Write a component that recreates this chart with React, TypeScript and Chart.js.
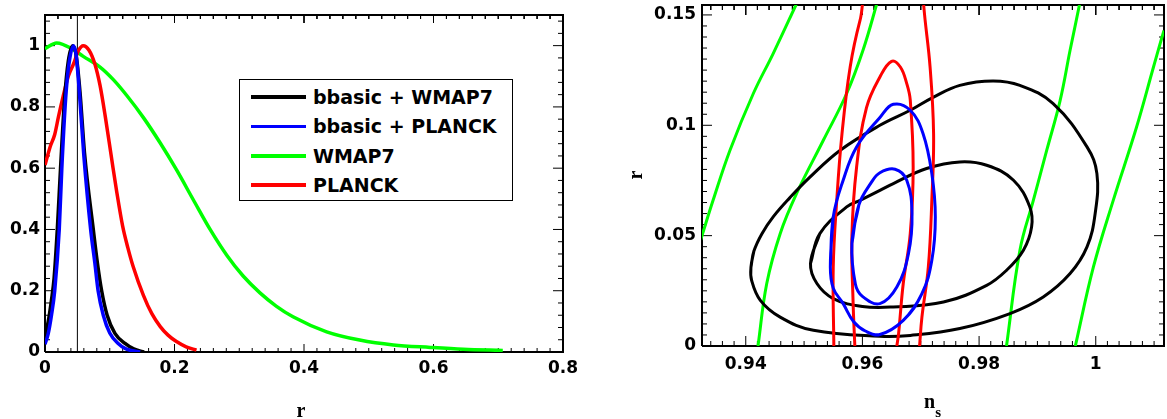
import React, { useEffect, useRef } from "react";
import { Chart, registerables } from "chart.js";

Chart.register(...registerables);
Chart.defaults.font.family = "'DejaVu Sans', sans-serif";
Chart.defaults.font.weight = "bold" as any;
Chart.defaults.font.size = 17;
Chart.defaults.color = "#000";

// ---------- Left panel: 1D likelihoods of r ----------
const blackR = [0, 0.005, 0.01, 0.014, 0.019, 0.024, 0.03, 0.036, 0.043, 0.048, 0.054, 0.061, 0.0746, 0.081, 0.0875, 0.096, 0.108, 0.1236, 0.137, 0.153];
const blackL = [0.05, 0.1, 0.17, 0.24, 0.4, 0.6, 0.82, 0.95, 1.0, 0.97, 0.85, 0.65, 0.4, 0.29, 0.2, 0.12, 0.061, 0.028, 0.01, 0];

const blueR = [0, 0.005, 0.01, 0.015, 0.022, 0.026, 0.032, 0.037, 0.044, 0.048, 0.053, 0.06, 0.0705, 0.077, 0.082, 0.09, 0.1, 0.113, 0.125, 0.147];
const blueL = [0.025, 0.06, 0.12, 0.2, 0.4, 0.6, 0.83, 0.94, 1.0, 0.97, 0.85, 0.64, 0.4, 0.29, 0.2, 0.12, 0.062, 0.028, 0.01, 0];

const greenR = [0, 0.018, 0.044, 0.059, 0.085, 0.1055, 0.126, 0.152, 0.178, 0.203, 0.229, 0.255, 0.281, 0.306, 0.332, 0.357, 0.383, 0.435, 0.486, 0.538, 0.595, 0.646, 0.707];
const greenL = [0.99, 1.009, 0.987, 0.965, 0.93, 0.889, 0.838, 0.765, 0.682, 0.595, 0.497, 0.4, 0.315, 0.248, 0.193, 0.15, 0.115, 0.066, 0.039, 0.023, 0.015, 0.009, 0.005];

const redR = [0, 0.008, 0.015, 0.021, 0.028, 0.036, 0.044, 0.052, 0.059, 0.068, 0.077, 0.085, 0.093, 0.103, 0.111, 0.12, 0.128, 0.136, 0.152, 0.165, 0.178, 0.19, 0.203, 0.218, 0.234];
const redL = [0.61, 0.67, 0.71, 0.77, 0.834, 0.9, 0.94, 0.985, 1.0, 0.985, 0.94, 0.87, 0.77, 0.63, 0.52, 0.41, 0.34, 0.28, 0.185, 0.125, 0.083, 0.055, 0.034, 0.017, 0.006];

const markerR = [0.05, 0.05];
const markerL = [0, 1.1];

const leftXTicks = [0, 0.2, 0.4, 0.6, 0.8];
const leftYTicks = [0, 0.2, 0.4, 0.6, 0.8, 1];

const legendLabels = ["bbasic + WMAP7", "bbasic + PLANCK", "WMAP7", "PLANCK"];
const legendColors = ["#000000", "#0000ff", "#00ff00", "#ff0000"];

// ---------- Right panel: 2D contours in (n_s, r) ----------
const blackOuterNs = [0.9409, 0.9414, 0.9428, 0.9447, 0.9475, 0.951, 0.9562, 0.963, 0.9682, 0.9722, 0.9767, 0.9824, 0.987, 0.9927, 0.9985, 1.0002, 0.9999, 0.9985, 0.9956, 0.991, 0.9853, 0.9767, 0.9682, 0.963, 0.9516, 0.9459, 0.9425, 0.941];
const blackOuterR = [0.0358, 0.043, 0.051, 0.0585, 0.067, 0.0765, 0.0887, 0.1, 0.1068, 0.1128, 0.1181, 0.1201, 0.1181, 0.1098, 0.0902, 0.0781, 0.06, 0.0449, 0.0328, 0.0222, 0.0147, 0.0079, 0.0048, 0.0044, 0.0071, 0.0131, 0.0207, 0.0298];

const blackInnerNs = [0.9511, 0.9527, 0.9573, 0.9596, 0.963, 0.9653, 0.971, 0.9767, 0.9813, 0.9859, 0.9887, 0.989, 0.9876, 0.9847, 0.9813, 0.9739, 0.9653, 0.96, 0.955, 0.9522];
const blackInnerR = [0.0373, 0.0509, 0.063, 0.066, 0.0705, 0.0736, 0.0804, 0.0834, 0.0819, 0.0751, 0.063, 0.0539, 0.0434, 0.0343, 0.0275, 0.0199, 0.0177, 0.0179, 0.0215, 0.0283];

const blueOuterNs = [0.9545, 0.955, 0.9567, 0.959, 0.963, 0.9653, 0.9682, 0.9704, 0.9719, 0.9725, 0.9719, 0.9702, 0.967, 0.963, 0.9605, 0.9585, 0.9567, 0.955];
const blueOuterR = [0.0358, 0.0585, 0.0751, 0.0902, 0.1035, 0.1095, 0.1068, 0.0962, 0.0781, 0.0585, 0.0388, 0.0237, 0.0116, 0.0052, 0.0068, 0.011, 0.0192, 0.0262];

const blueInnerNs = [0.9582, 0.9594, 0.9615, 0.963, 0.9656, 0.9676, 0.9685, 0.9679, 0.9659, 0.963, 0.96, 0.9588];
const blueInnerR = [0.0464, 0.064, 0.074, 0.0785, 0.0801, 0.0751, 0.06, 0.0419, 0.0267, 0.0192, 0.0225, 0.028];

const redInnerNs = [0.9587, 0.9584, 0.9582, 0.959, 0.9607, 0.963, 0.965, 0.9665, 0.9676, 0.9682, 0.9687, 0.9682, 0.967, 0.9662, 0.9659];
const redInnerR = [0, 0.02, 0.05, 0.081, 0.108, 0.1219, 0.129, 0.1264, 0.1189, 0.1115, 0.0811, 0.0509, 0.0283, 0.0056, 0];

const redOuterNs = [0.9551, 0.955, 0.9556, 0.9565, 0.9579, 0.9596, 0.9614, 0.9705, 0.9705, 0.9716, 0.9722, 0.9719, 0.9713, 0.9702, 0.9698];
const redOuterR = [0, 0.0358, 0.066, 0.0962, 0.1264, 0.1476, 0.162, 0.162, 0.1545, 0.1264, 0.0962, 0.066, 0.0358, 0.0131, 0];

const green1Ns = [0.9318, 0.9325, 0.9344, 0.9373, 0.9413, 0.9447, 0.9486, 0.9492];
const green1R = [0.044, 0.05, 0.066, 0.0887, 0.1144, 0.1325, 0.1545, 0.158];
const green2Ns = [0.9421, 0.9436, 0.9459, 0.9487, 0.9533, 0.9573, 0.9601, 0.9624, 0.9627];
const green2R = [0, 0.0283, 0.0509, 0.069, 0.0932, 0.1144, 0.134, 0.1545, 0.158];
const green3Ns = [0.9847, 0.987, 0.9893, 0.9916, 0.9939, 0.9956, 0.9972, 0.9974];
const green3R = [0, 0.0434, 0.066, 0.0887, 0.1113, 0.134, 0.1545, 0.158];
const green4Ns = [0.9965, 0.9996, 1.003, 1.007, 1.0099, 1.0117, 1.0135];
const green4R = [0, 0.0358, 0.066, 0.0992, 0.1264, 0.143, 0.158];

const rightXTicks = [0.94, 0.96, 0.98, 1];
const rightYTicks = [0, 0.05, 0.1, 0.15];

// ---------- helpers ----------
const pts = (xs: number[], ys: number[]) => xs.map((x, i) => ({ x, y: ys[i] }));
const loop = (xs: number[], ys: number[]) => {
  const p = pts(xs, ys);
  return [...p, p[0], p[1]];
};
const fmt = (v: number) => String(Math.round(v * 1000) / 1000);

function stepValues(min: number, max: number, step: number) {
  const out: number[] = [];
  const k0 = Math.ceil(min / step - 1e-6);
  const k1 = Math.floor(max / step + 1e-6);
  for (let k = k0; k <= k1; k++) out.push(k * step);
  return out;
}

// Frame + inward tick marks, expressed in data units derived from the chart's own scales
function frameAndTicks(chart: any, xMinor: number, yMinor: number, xLen: number[], yLen: number[]) {
  const xs = chart.scales.x;
  const ys = chart.scales.y;
  const pxPerX = Math.abs(xs.getPixelForValue(xs.max) - xs.getPixelForValue(xs.min)) / (xs.max - xs.min);
  const pxPerY = Math.abs(ys.getPixelForValue(ys.max) - ys.getPixelForValue(ys.min)) / (ys.max - ys.min);
  const xMaj = xs.ticks.map((t: any) => t.value);
  const yMaj = ys.ticks.map((t: any) => t.value);
  const near = (v: number, list: number[]) => list.some((m) => Math.abs(m - v) < 1e-7);
  const ticks: any[] = [];
  stepValues(xs.min, xs.max, xMinor).forEach((v) => {
    const d = (near(v, xMaj) ? xLen[0] : xLen[1]) / pxPerY;
    ticks.push({ x: v, y: ys.min }, { x: v, y: ys.min + d }, { x: v, y: null });
    ticks.push({ x: v, y: ys.max }, { x: v, y: ys.max - d }, { x: v, y: null });
  });
  stepValues(ys.min, ys.max, yMinor).forEach((v) => {
    const d = (near(v, yMaj) ? yLen[0] : yLen[1]) / pxPerX;
    ticks.push({ x: xs.min, y: v }, { x: xs.min + d, y: v }, { x: null, y: null });
    ticks.push({ x: xs.max, y: v }, { x: xs.max - d, y: v }, { x: null, y: null });
  });
  const frame = [
    { x: xs.min, y: ys.min },
    { x: xs.max, y: ys.min },
    { x: xs.max, y: ys.max },
    { x: xs.min, y: ys.max },
    { x: xs.min, y: ys.min },
  ];
  return { frame, ticks };
}

function makeScale(min: number, max: number, ticks: number[], fitKey: "width" | "height", fitVal: number, padding: number) {
  return {
    type: "linear",
    min,
    max,
    afterBuildTicks: (s: any) => {
      s.ticks = ticks.map((v) => ({ value: v }));
    },
    afterFit: (s: any) => {
      s[fitKey] = fitVal;
      s.paddingTop = 0;
      s.paddingBottom = 0;
      s.paddingLeft = 0;
      s.paddingRight = 0;
    },
    grid: { display: false, drawTicks: false },
    border: { display: false },
    ticks: { padding, callback: (v: any) => fmt(Number(v)), maxRotation: 0, minRotation: 0, autoSkip: false },
  };
}

const lineDs = (data: any[], color: string, width: number, extra: any = {}) => ({
  data,
  borderColor: color,
  backgroundColor: color,
  borderWidth: width,
  showLine: true,
  pointRadius: 0,
  fill: false,
  ...extra,
});

const guideDs = (width: number) => ({
  data: [] as any[],
  borderColor: "#000",
  backgroundColor: "#000",
  borderWidth: width,
  showLine: true,
  pointRadius: 0,
  fill: false,
  spanGaps: false,
  tension: 0,
  clip: false,
  borderCapStyle: "butt",
  borderJoinStyle: "miter",
});

function LeftChart() {
  const ref = useRef<HTMLCanvasElement | null>(null);
  useEffect(() => {
    if (!ref.current) return;
    const mono = { cubicInterpolationMode: "monotone" };
    const chart = new Chart(ref.current, {
      type: "scatter",
      data: {
        datasets: [
          lineDs(pts(blueR, blueL), "#0000ff", 3.5, mono),
          lineDs(pts(blackR, blackL), "#000000", 3.5, mono),
          lineDs(pts(redR, redL), "#ff0000", 3.5, mono),
          lineDs(pts(greenR, greenL), "#00ff00", 3.5, mono),
          lineDs(pts(markerR, markerL), "#000000", 1),
          guideDs(2),
          guideDs(1),
        ],
      },
      options: {
        responsive: false,
        animation: false,
        events: [],
        layout: { padding: { top: 15, right: 20, left: 0, bottom: 0 } },
        plugins: { legend: { display: false }, tooltip: { enabled: false } },
        scales: {
          x: makeScale(0, 0.8, leftXTicks, "height", 67, 6),
          y: makeScale(0, 1.1, leftYTicks, "width", 45, 5),
        },
      },
    } as any);
    const g = frameAndTicks(chart, 0.02, 0.04, [8, 4], [10, 5]);
    chart.data.datasets[5].data = g.frame;
    chart.data.datasets[6].data = g.ticks;
    chart.update("none");
    return () => chart.destroy();
  }, []);
  return <canvas ref={ref} width={583} height={419} style={{ position: "absolute", left: 0, top: 0 }} />;
}

function RightChart() {
  const ref = useRef<HTMLCanvasElement | null>(null);
  useEffect(() => {
    if (!ref.current) return;
    const t = { tension: 0.4 };
    const chart = new Chart(ref.current, {
      type: "scatter",
      data: {
        datasets: [
          lineDs(loop(blueInnerNs, blueInnerR), "#0000ff", 3, t),
          lineDs(loop(blueOuterNs, blueOuterR), "#0000ff", 3, t),
          lineDs(pts(redInnerNs, redInnerR), "#ff0000", 3, t),
          lineDs(pts(redOuterNs, redOuterR), "#ff0000", 3, t),
          lineDs(loop(blackInnerNs, blackInnerR), "#000000", 3, t),
          lineDs(loop(blackOuterNs, blackOuterR), "#000000", 3, t),
          lineDs(pts(green1Ns, green1R), "#00ff00", 3, t),
          lineDs(pts(green2Ns, green2R), "#00ff00", 3, t),
          lineDs(pts(green3Ns, green3R), "#00ff00", 3, t),
          lineDs(pts(green4Ns, green4R), "#00ff00", 3, t),
          guideDs(2),
          guideDs(1),
        ],
      },
      options: {
        responsive: false,
        animation: false,
        events: [],
        layout: { padding: { top: 5, right: 3, left: 0, bottom: 0 } },
        plugins: { legend: { display: false }, tooltip: { enabled: false } },
        scales: {
          x: makeScale(0.9325, 1.0117, rightXTicks, "height", 73, 8),
          y: makeScale(0, 0.1545, rightYTicks, "width", 119, 6),
        },
      },
    } as any);
    const g = frameAndTicks(chart, 0.002, 0.005, [10, 5], [10, 5]);
    chart.data.datasets[10].data = g.frame;
    chart.data.datasets[11].data = g.ticks;
    chart.update("none");
    return () => chart.destroy();
  }, []);
  return <canvas ref={ref} width={584} height={419} style={{ position: "absolute", left: 583, top: 0 }} />;
}

const serif = "bold 20px 'Liberation Serif', 'Times New Roman', serif";

export default function App() {
  return (
    <div style={{ position: "absolute", left: 0, top: 0, width: 1167, height: 419, background: "#fff", overflow: "hidden" }}>
      <LeftChart />
      <RightChart />
      <div
        style={{
          position: "absolute",
          left: 239,
          top: 79,
          width: 274,
          height: 122,
          border: "1.5px solid #000",
          boxSizing: "border-box",
          background: "#fff",
        }}
      >
        {legendLabels.map((lab, i) => (
          <div
            key={lab}
            style={{ position: "absolute", left: 0, top: 5 + i * 29.4, height: 24, width: 270, display: "flex", alignItems: "center" }}
          >
            <div style={{ marginLeft: 11, width: 55, height: 3.5, background: legendColors[i] }} />
            <div
              style={{
                marginLeft: 7,
                font: "bold 19px 'DejaVu Sans', sans-serif",
                color: "#000",
                whiteSpace: "nowrap",
                lineHeight: "24px",
              }}
            >
              {lab}
            </div>
          </div>
        ))}
      </div>
      <div style={{ position: "absolute", left: 281, top: 399.5, width: 40, textAlign: "center", font: serif, lineHeight: "20px" }}>r</div>
      <div
        style={{
          position: "absolute",
          left: 624.8,
          top: 165,
          width: 20,
          height: 20,
          textAlign: "center",
          font: serif,
          lineHeight: "20px",
          transform: "rotate(-90deg)",
        }}
      >
        r
      </div>
      <div style={{ position: "absolute", left: 924, top: 391, font: serif, lineHeight: "20px", whiteSpace: "nowrap" }}>
        n<span style={{ fontSize: 15, position: "relative", top: 9.4 }}>s</span>
      </div>
    </div>
  );
}
